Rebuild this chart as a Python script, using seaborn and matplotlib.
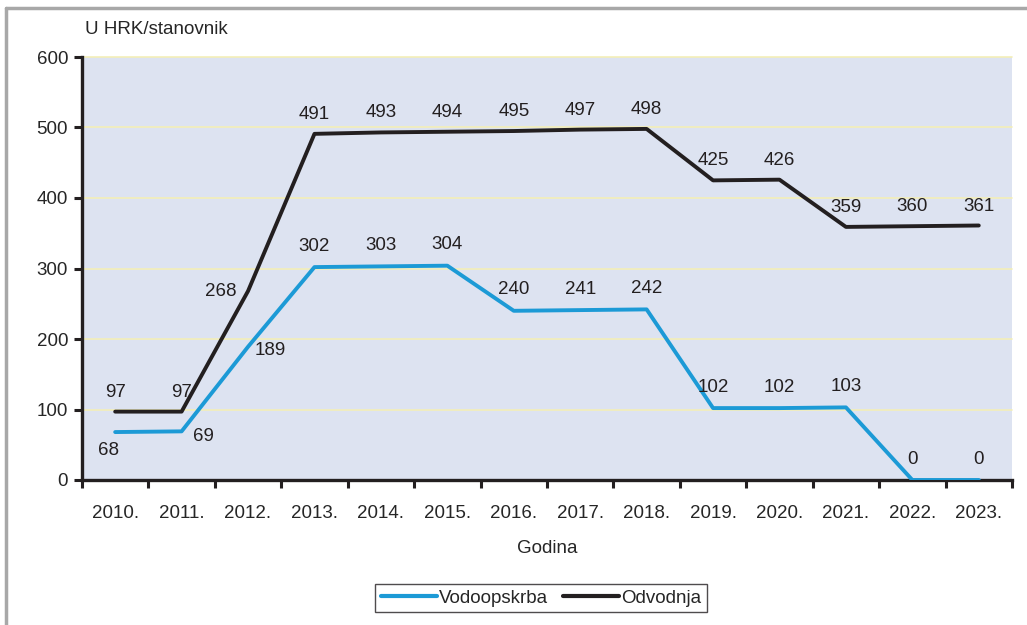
import matplotlib
matplotlib.use("Agg")
import matplotlib.pyplot as plt
import seaborn as sns
import pandas as pd
from matplotlib.lines import Line2D

years = ['2010.', '2011.', '2012.', '2013.', '2014.', '2015.', '2016.',
         '2017.', '2018.', '2019.', '2020.', '2021.', '2022.', '2023.']
vodoopskrba = [68, 69, 189, 302, 303, 304, 240, 241, 242, 102, 102, 103, 0, 0]
odvodnja = [97, 97, 268, 491, 493, 494, 495, 497, 498, 425, 426, 359, 360, 361]

blue = '#1c9ad6'
black = '#231f20'
fs = 13.5

sns.set_style('white')
plt.rcParams['font.family'] = ['Liberation Sans', 'DejaVu Sans']
plt.rcParams['font.size'] = fs

df = pd.DataFrame({
    'idx': list(range(len(years))) * 2,
    'value': vodoopskrba + odvodnja,
    'serija': ['Vodoopskrba'] * len(years) + ['Odvodnja'] * len(years),
})

fig = plt.figure(figsize=(10.27, 6.25), dpi=100)
ax = fig.add_axes([0.0798, 0.232, 0.9056, 0.6768])
ax.set_facecolor('#dde3f1')

sns.lineplot(data=df, x='idx', y='value', hue='serija',
             palette={'Vodoopskrba': blue, 'Odvodnja': black},
             linewidth=2.8, ax=ax, legend=False, zorder=3)

ax.set_xlim(-0.5, len(years) - 0.5)
ax.set_ylim(0, 600)
ax.set_yticks(range(0, 601, 100))
ax.yaxis.grid(True, color='#f3efb8', linewidth=1.2, clip_on=False)
ax.set_axisbelow(True)

ax.set_xticks(range(len(years)))
ax.set_xticklabels(years)
ax.set_xticks([i - 0.5 for i in range(len(years) + 1)], minor=True)
ax.tick_params(axis='x', which='major', bottom=False, length=0, pad=18)
ax.tick_params(axis='x', which='minor', bottom=True, length=6, width=2.2, color=black, direction='out')
ax.tick_params(axis='y', left=True, length=6, width=2.2, color=black, direction='out', pad=4)

for s in ['top', 'right']:
    ax.spines[s].set_visible(False)
for s in ['left', 'bottom']:
    ax.spines[s].set_linewidth(2.4)
    ax.spines[s].set_color(black)

ax.set_xlabel('Godina', labelpad=13)
ax.set_ylabel('')
fig.text(0.083, 0.952, 'U HRK/stanovnik', ha='left', va='center', fontsize=fs)

# label placements (offset points) - default above
above = (0, 14)
odv_off = {2: (-20, 0)}
vod_off = {0: (-5, -13), 1: (16, -4), 2: (16, -3)}

for i, v in enumerate(odvodnja):
    dx, dy = odv_off.get(i, above)
    ax.annotate(str(v), (i, v), xytext=(dx, dy), textcoords='offset points',
                ha='center', va='center', fontsize=fs, color=black, zorder=4)
for i, v in enumerate(vodoopskrba):
    dx, dy = vod_off.get(i, (0, 15))
    ax.annotate(str(v), (i, v), xytext=(dx, dy), textcoords='offset points',
                ha='center', va='center', fontsize=fs, color=black, zorder=4)

handles = [Line2D([], [], color=blue, linewidth=3), Line2D([], [], color=black, linewidth=3)]
leg = fig.legend(handles, ['Vodoopskrba', 'Odvodnja'], loc='center', bbox_to_anchor=(0.527, 0.043),
                 ncol=2, frameon=True, fancybox=False, edgecolor=black, handlelength=3.0,
                 handletextpad=0.1, columnspacing=0.8, borderpad=0.3, fontsize=fs)
leg.get_frame().set_linewidth(1)

# outer grey frame lines (top and left) of the figure box
fig.add_artist(Line2D([0.006, 1.0], [0.987, 0.987], transform=fig.transFigure,
                      color='#a8a8a8', linewidth=2.5))
fig.add_artist(Line2D([0.006, 0.006], [0.0, 0.987], transform=fig.transFigure,
                      color='#a8a8a8', linewidth=2.5))

fig.savefig('out.png', dpi=100)
